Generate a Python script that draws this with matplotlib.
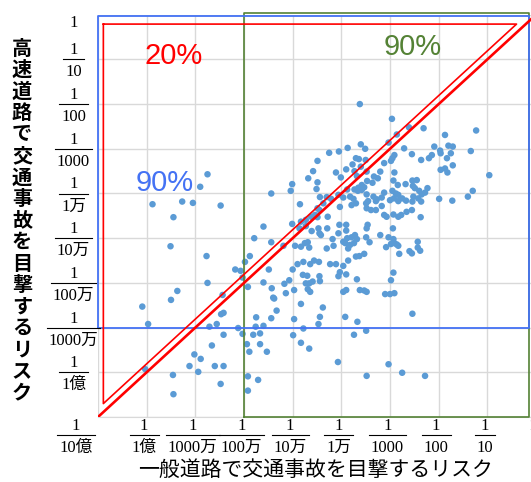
import matplotlib
matplotlib.use("Agg")
import matplotlib.pyplot as plt
import numpy as np
from matplotlib.lines import Line2D
from matplotlib.transforms import IdentityTransform, blended_transform_factory

# log10 of risk (x: general road, y: highway)
general_log = [
    -6.75, -6.90, -7.88, -7.27, -7.05, -7.45, -6.48, -7.51, -5.79, -6.77,
    -6.75, -7.37, -7.50, -8.09, -7.97, -6.44, -6.42, -6.47, -6.56, -6.71,
    -6.42, -6.66, -7.02, -6.89, -7.12, -6.94, -6.60, -6.42, -8.03, -7.46,
    -6.48, -7.45, -6.18, -6.07, -5.98, -5.88, -6.03, -5.92, -6.12, -6.03,
    -5.94, -5.89, -5.92, -5.92,
    -5.75, -5.76, -5.60, -5.81, -5.67, -5.67, -5.53, -5.71, -5.38, -5.33,
    -5.44, -4.97, -4.83, -4.38, -4.44, -4.47, -4.78, -4.99, -4.83, -4.66,
    -3.92, -3.67, -3.74, -3.49, -4.07, -3.48, -3.03, -2.75, -2.28, -2.54,
    -5.60, -5.44, -5.44, -5.19, -5.49, -5.60, -5.43, -5.17, -5.07, -4.97,
    -5.14, -5.40, -5.00, -4.90, -4.78, -4.64, -4.56, -4.46, -4.23, -4.11,
    -4.79, -4.70, -4.45, -4.59, -4.73, -4.66, -4.69, -4.64, -4.44, -4.06,
    -3.90, -4.03, -3.96, -3.86, -3.70, -3.63, -3.53, -3.68, -3.96, -3.90,
    -3.62, -3.53, -3.48, -3.10, -3.00, -2.91, -2.98, -2.93,
    -3.62, -2.96, -1.23, -2.31, -1.87, -2.61, -2.86, -3.03, -3.60, -3.51,
    -3.87, -4.05, -4.25, -4.49, -4.58, -4.68, -5.01, -5.04, -4.85, -4.49,
    -4.51, -4.11, -4.01, -3.90, -3.77, -3.70, -3.64, -3.50, -3.60, -3.73,
    -3.68, -3.48, -3.20, -3.33, -3.25, -3.36, -3.47, -3.12, -2.95, -2.91,
    -2.98, -2.71, -2.55, -2.36, -2.20, -2.14, -2.09, -1.97, -1.96, -1.80,
    -1.71, -1.83, -1.75, -1.34, -1.96, -1.87, -1.71, -1.82, -0.96, -2.91,
    -2.93, -2.84, -2.68, -2.54, -2.45, -2.53, -2.49, -2.40, -2.23, -2.28,
    -2.35, -2.52, -2.42, -2.36, -2.54, -2.67, -2.75, -2.83, -2.92, -2.83,
    -2.88, -3.00, -2.95, -3.12, -3.17, -3.27, -3.34, -3.29, -3.48, -3.45,
    -3.49, -3.58, -3.65, -3.66, -3.58, -3.53, -3.73, -3.88, -3.82, -3.75,
    -3.70, -3.79, -3.96, -4.03, -4.06, -4.21, -4.30, -4.44, -4.49, -4.45,
    -4.28, -4.37, -3.48, -3.39, -3.29, -3.17, -3.12, -3.07, -2.93, -2.83,
    -2.77, -2.66, -2.55, -2.37, -1.99, -1.72, -1.40, -1.30, -3.46, -3.48,
    -2.94, -3.20, -3.49, -3.42, -3.03, -2.93, -2.91, -2.86, -2.98, -3.08,
    -2.81, -2.60, -2.55, -2.43, -2.38, -2.43, -2.83, -3.86, -3.92, -3.96,
    -3.88, -3.79, -3.72, -3.68, -3.74, -3.82, -3.90, -4.06, -4.04, -3.90,
    -4.18, -4.16, -4.30, -4.45, -4.47, -4.42, -4.61, -4.29, -4.73, -4.75,
    -4.69, -4.66, -4.83, -4.95, -5.01, -4.83, -4.73, -4.62, -4.54, -4.49,
    -4.86,
]
highway_log = [
    -3.57, -3.85, -4.24, -4.18, -4.21, -4.53, -4.27, -5.18, -5.00, -5.40,
    -6.00, -6.18, -6.38, -6.53, -6.92, -6.27, -6.67, -6.70, -6.92, -6.98,
    -7.16, -7.40, -7.60, -7.70, -7.86, -7.99, -7.86, -7.86, -7.93, -8.06,
    -8.26, -8.49, -5.70, -5.73, -5.53, -5.40, -5.88, -6.09, -7.01, -7.14,
    -7.37, -7.54, -8.09, -8.41,
    -6.77, -6.98, -6.96, -7.16, -7.13, -7.37, -7.54, -8.17, -6.35, -6.62,
    -6.79, -6.81, -6.47, -6.55, -6.76, -6.92, -7.02, -7.17, -7.34, -7.47,
    -6.76, -6.87, -7.16, -7.07, -7.77, -8.08, -7.82, -8.01, -8.08, -6.69,
    -4.74, -4.00, -5.09, -5.17, -5.70, -5.99, -6.12, -6.02, -5.94, -6.16,
    -6.23, -6.33, -5.70, -5.58, -5.53, -5.58, -5.50, -5.53, -5.58, -5.58,
    -5.82, -5.84, -5.85, -5.97, -6.01, -6.01, -6.14, -6.20, -5.96, -5.85,
    -5.81, -5.76, -5.62, -5.50, -5.41, -5.40, -5.35, -5.92, -6.20, -6.16,
    -6.16, -6.17, -6.20, -6.25, -6.25, -6.23, -5.94, -5.77,
    -2.00, -2.33, -2.59, -2.54, -2.69, -2.52, -2.68, -2.86, -2.90, -3.00,
    -2.98, -3.06, -3.09, -3.27, -3.50, -3.66, -3.79, -3.94, -4.24, -3.75,
    -3.90, -3.53, -3.64, -3.46, -3.35, -3.21, -3.23, -3.25, -3.40, -3.50,
    -3.61, -3.51, -3.51, -3.62, -3.66, -3.76, -3.72, -3.32, -3.21, -3.14,
    -3.27, -2.99, -3.12, -3.25, -3.21, -3.14, -2.95, -3.04, -3.10, -2.93,
    -2.95, -3.21, -3.10, -3.05, -3.47, -3.44, -3.37, -3.53, -3.59, -3.53,
    -3.71, -3.81, -3.79, -3.71, -3.70, -3.83, -3.88, -3.94, -3.88, -3.98,
    -4.02, -4.07, -4.11, -4.18, -4.18, -4.16, -4.11, -4.03, -4.11, -4.17,
    -4.00, -4.15, -3.94, -3.98, -4.09, -4.13, -4.07, -4.17, -4.02, -4.17,
    -4.22, -3.81, -3.87, -3.94, -3.92, -3.86, -3.91, -3.91, -4.07, -4.12,
    -4.22, -4.26, -4.09, -4.30, -4.03, -4.12, -4.08, -4.08, -4.33, -4.37,
    -4.52, -4.22, -4.33, -4.37, -4.37, -4.28, -4.48, -4.52, -4.47, -4.52,
    -4.48, -4.41, -4.37, -4.53, -4.12, -4.16, -4.07, -3.94, -4.70, -4.78,
    -4.78, -4.93, -4.98, -5.09, -4.98, -5.02, -5.11, -5.14, -5.13, -5.20,
    -5.35, -5.29, -5.34, -5.08, -5.28, -5.21, -5.17, -5.23, -5.11, -5.08,
    -5.00, -4.98, -4.93, -5.02, -5.11, -5.15, -4.83, -4.89, -4.70, -4.70,
    -5.02, -5.17, -5.23, -4.89, -4.78, -4.93, -4.84, -4.78, -4.73, -5.11,
    -5.09, -5.21, -5.19, -5.17, -4.68, -4.63, -4.59, -4.52, -4.48, -4.53,
    -4.78,
]

x_decades = [-8, -7, -6, -5, -4, -3, -2, -1]
x_denoms = ["1億", "1000万", "100万", "10万", "1万", "1000", "100", "10"]
y_decades = [-1, -2, -3, -4, -5, -6, -7, -8]
y_denoms = ["10", "100", "1000", "1万", "10万", "100万", "1000万", "1億"]

BLUE = "#4472F4"
GREEN = "#548235"
RED = "#FF0000"
DOT = "#5B9BD5"
serif_jp = ["Liberation Serif", "Noto Sans CJK JP"]

fig = plt.figure(figsize=(5.31, 4.82), dpi=100)
ax = fig.add_axes([98 / 531, 65 / 482, 438 / 531, 402.3 / 482])
ax.set_xscale("log")
ax.set_yscale("log")
ax.set_xlim(1e-9, 1)
ax.set_ylim(1e-9, 1)
ax.set_xticks([10.0 ** k for k in range(-9, 1)])
ax.set_yticks([10.0 ** k for k in range(-9, 1)])
ax.minorticks_off()
ax.tick_params(length=0, labelbottom=False, labelleft=False)
ax.grid(True, color="#D9D9D9", lw=1.0)
ax.set_axisbelow(True)
for side in ["top", "right", "left"]:
    ax.spines[side].set_visible(False)
ax.spines["bottom"].set_color("#D9D9D9")

ax.scatter(10.0 ** np.array(general_log), 10.0 ** np.array(highway_log),
           s=22, color=DOT, edgecolors="none", zorder=2)

# identity line and the 20% triangle
ax.plot([1e-9, 1], [1e-9, 1], color=RED, lw=1.9, zorder=5)
tri_x = [10 ** -8.89, 10 ** -0.40, 10 ** -8.89, 10 ** -8.89]
tri_y = [10 ** -0.21, 10 ** -0.21, 10 ** -8.70, 10 ** -0.21]
ax.plot(tri_x, tri_y, color=RED, lw=1.2, zorder=5)

# 90% boxes
right = 10 ** -0.135
gx = [1e-6, right, right, 1e-6, 1e-6]
gy = [1e-9, 1e-9, 10 ** 0.04, 10 ** 0.04, 1e-9]
ax.plot(gx, gy, color=GREEN, lw=1.2, zorder=3, clip_on=False)
bx = [1e-9, right, right, 1e-9, 1e-9]
by = [1e-7, 1e-7, 10 ** -0.03, 10 ** -0.03, 1e-7]
ax.plot(bx, by, color=BLUE, lw=1.3, zorder=4, clip_on=False)

ax.text(10 ** -7.44, 10 ** -0.93, "20%", color=RED, fontsize=21,
        family="Liberation Sans", ha="center", va="center")
ax.text(10 ** -2.53, 10 ** -0.73, "90%", color=GREEN, fontsize=21,
        family="Liberation Sans", ha="center", va="center")
ax.text(10 ** -7.63, 10 ** -3.77, "90%", color=BLUE, fontsize=21,
        family="Liberation Sans", ha="center", va="center")

# fraction tick labels
xt = blended_transform_factory(ax.transData, ax.transAxes)
yt = blended_transform_factory(ax.transAxes, ax.transData)
bars = []


def fraction(xy, trans, dx, dy, den):
    kw = dict(xycoords=trans, textcoords="offset pixels", ha="center",
              va="baseline", fontsize=12, family=serif_jp, annotation_clip=False)
    ax.annotate("1", xy, xytext=(dx, dy + 5), **kw)
    low = ax.annotate(den, xy, xytext=(dx, dy - 17), **kw)
    bars.append((low, trans, xy, dy))


for k, den in zip(x_decades, x_denoms):
    fraction((10.0 ** k, 0), xt, -2.5, -18, den)
fraction((1e-9, 0), xt, -22, -18, "10億")
ax.annotate("1", (1, 0), xycoords=xt, xytext=(-3, -13), textcoords="offset pixels",
            ha="center", va="baseline", fontsize=12, family=serif_jp,
            color="#999999", annotation_clip=False)
for k, den in zip(y_decades, y_denoms):
    fraction((0, 10.0 ** k), yt, -24.5, 0, den)
ax.annotate("1", (0, 1), xycoords=yt, xytext=(-24.5, -12), textcoords="offset pixels",
            ha="center", va="baseline", fontsize=12, family=serif_jp,
            annotation_clip=False)

# stacked vertical y title
ytitle = "高速道路で交通事故を目撃するリスク"
for i, ch in enumerate(ytitle):
    fig.text(22 / 531, 1 - (48 + i * 21.5) / 482, ch, fontsize=14.5,
             family="Noto Sans CJK JP", weight="bold", ha="center", va="center")

fig.text(316 / 531, 1 - 470 / 482, "一般道路で交通事故を目撃するリスク",
         fontsize=15, family="Noto Sans CJK JP", ha="center", va="center")

fig.canvas.draw()
for low, trans, xy, dy in bars:
    bb = low.get_window_extent()
    ybar = trans.transform(xy)[1] + dy
    fig.add_artist(Line2D([bb.x0 - 2, bb.x1 + 2], [ybar, ybar],
                          transform=IdentityTransform(), color="black", lw=0.8))

fig.savefig("out.png", dpi=100)
